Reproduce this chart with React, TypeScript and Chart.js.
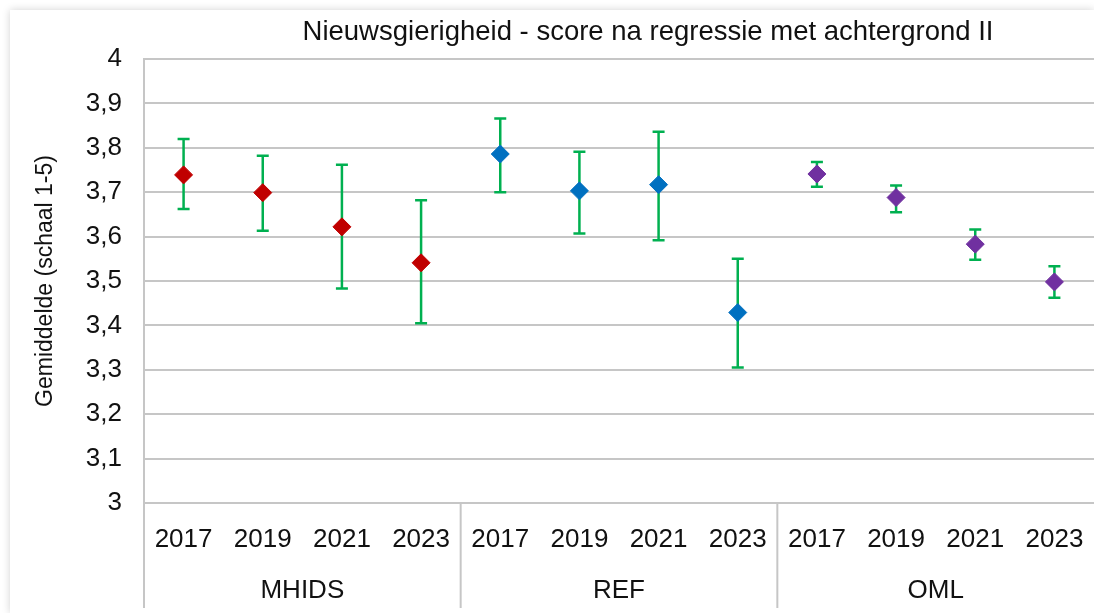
import React, { useEffect, useRef } from "react";
import { Chart, registerables } from "chart.js";

Chart.register(...registerables);

const chartTitle = "Nieuwsgierigheid - score na regressie met achtergrond II";
const yAxisTitle = "Gemiddelde (schaal 1-5)";
const groups = ["MHIDS", "REF", "OML"];
const years = ["2017", "2019", "2021", "2023"];

const mhidsMean = [3.739, 3.699, 3.622, 3.541];
const mhidsLow = [3.662, 3.613, 3.483, 3.405];
const mhidsHigh = [3.82, 3.782, 3.762, 3.682];

const refMean = [3.786, 3.703, 3.717, 3.429];
const refLow = [3.7, 3.607, 3.592, 3.305];
const refHigh = [3.866, 3.791, 3.836, 3.55];

const omlMean = [3.741, 3.688, 3.583, 3.498];
const omlLow = [3.712, 3.655, 3.548, 3.462];
const omlHigh = [3.768, 3.715, 3.616, 3.533];

const yTicks = [3, 3.1, 3.2, 3.3, 3.4, 3.5, 3.6, 3.7, 3.8, 3.9, 4];

const seriesColors = ["#C00000", "#0070C0", "#7030A0"];
const errColor = "#00B050";
const gridColor = "#C6C6C6";
const FONT = "'Liberation Sans', Arial, sans-serif";

export default function App() {
  const ref = useRef<HTMLCanvasElement | null>(null);

  useEffect(() => {
    if (!ref.current) return;
    const labels: string[] = [];
    groups.forEach(() => years.forEach((y) => labels.push(y)));
    const n = labels.length;
    const place = (arr: number[], g: number) => {
      const out: (number | null)[] = new Array(n).fill(null);
      arr.forEach((v, i) => (out[g * years.length + i] = v));
      return out;
    };
    const means = [mhidsMean, refMean, omlMean];
    const lows = [mhidsLow, refLow, omlLow];
    const highs = [mhidsHigh, refHigh, omlHigh];

    const errorBars = {
      id: "errorBars",
      beforeDatasetsDraw(chart: any) {
        const ctx = chart.ctx;
        const ys = chart.scales.y;
        ctx.save();
        ctx.strokeStyle = errColor;
        ctx.lineWidth = 2.5;
        chart.data.datasets.forEach((ds: any, di: number) => {
          const meta = chart.getDatasetMeta(di);
          const lo = place(lows[di], di);
          const hi = place(highs[di], di);
          meta.data.forEach((pt: any, i: number) => {
            if (lo[i] == null || hi[i] == null) return;
            const x = pt.x;
            const y1 = ys.getPixelForValue(lo[i]);
            const y2 = ys.getPixelForValue(hi[i]);
            const cap = 6;
            ctx.beginPath();
            ctx.moveTo(x, y1);
            ctx.lineTo(x, y2);
            ctx.moveTo(x - cap, y1);
            ctx.lineTo(x + cap, y1);
            ctx.moveTo(x - cap, y2);
            ctx.lineTo(x + cap, y2);
            ctx.stroke();
          });
        });
        ctx.restore();
      },
    };

    const decor = {
      id: "decor",
      afterDraw(chart: any) {
        const ctx = chart.ctx;
        const xs = chart.scales.x;
        const area = chart.chartArea;
        const bottom = chart.height - 5;
        ctx.save();
        ctx.strokeStyle = gridColor;
        ctx.lineWidth = 2;
        const step = xs.getPixelForValue(1) - xs.getPixelForValue(0);
        for (let g = 0; g < groups.length; g++) {
          const x = xs.getPixelForValue(g * years.length) - step / 2;
          ctx.beginPath();
          ctx.moveTo(x, g === 0 ? area.top : area.bottom);
          ctx.lineTo(x, bottom);
          ctx.stroke();
        }
        ctx.fillStyle = "#111";
        ctx.font = `26px ${FONT}`;
        ctx.textAlign = "center";
        ctx.textBaseline = "middle";
        groups.forEach((name, g) => {
          const x0 = xs.getPixelForValue(g * years.length);
          const x1 = xs.getPixelForValue(g * years.length + years.length - 1);
          ctx.fillText(name, (x0 + x1) / 2, area.bottom + 88);
        });
        ctx.font = `27.5px ${FONT}`;
        ctx.fillText(chartTitle, 638, 22);
        ctx.restore();
      },
    };

    const chart = new Chart(ref.current, {
      type: "line",
      data: {
        labels,
        datasets: groups.map((g, gi) => ({
          label: g,
          data: place(means[gi], gi),
          showLine: false,
          pointStyle: "rectRot",
          pointRadius: 9,
          pointBorderWidth: 1,
          backgroundColor: seriesColors[gi],
          borderColor: seriesColors[gi],
        })),
      },
      options: {
        responsive: false,
        animation: false,
        layout: { autoPadding: false, padding: { top: 49, right: 0, bottom: 0, left: 0 } },
        plugins: { legend: { display: false }, tooltip: { enabled: false } },
        scales: {
          x: {
            type: "category",
            offset: true,
            grid: { display: false, drawTicks: false },
            border: { display: true, color: gridColor, width: 2 },
            ticks: {
              color: "#111",
              font: { family: FONT, size: 26 },
              padding: 21,
              maxRotation: 0,
              autoSkip: false,
            },
            afterFit(scale: any) {
              scale.height = 110;
              scale.paddingLeft = 0;
              scale.paddingRight = 0;
            },
          },
          y: {
            min: 3,
            max: 4,
            afterBuildTicks(scale: any) {
              scale.ticks = yTicks.map((v) => ({ value: v }));
            },
            grid: { color: gridColor, lineWidth: 2, drawTicks: false },
            border: { display: true, color: gridColor, width: 2 },
            ticks: {
              color: "#111",
              font: { family: FONT, size: 26 },
              padding: 22,
              callback: (v: any) => {
                const num = Number(v);
                return Math.abs(num - Math.round(num)) < 1e-9
                  ? String(Math.round(num))
                  : num.toFixed(1).replace(".", ",");
              },
            },
            title: {
              display: true,
              text: yAxisTitle,
              color: "#111",
              font: { family: FONT, size: 23 },
              padding: { top: 22, bottom: 0 },
            },
            afterFit(scale: any) {
              scale.width = 134;
            },
          },
        },
      },
      plugins: [errorBars, decor],
    });
    return () => chart.destroy();
  }, []);

  return (
    <div
      style={{
        position: "fixed",
        left: 10,
        top: 10,
        width: 1084,
        height: 603,
        background: "#fff",
        boxShadow: "0 0 8px rgba(0,0,0,0.18)",
      }}
    >
      <canvas ref={ref} width={1084} height={603} style={{ display: "block" }} />
    </div>
  );
}
